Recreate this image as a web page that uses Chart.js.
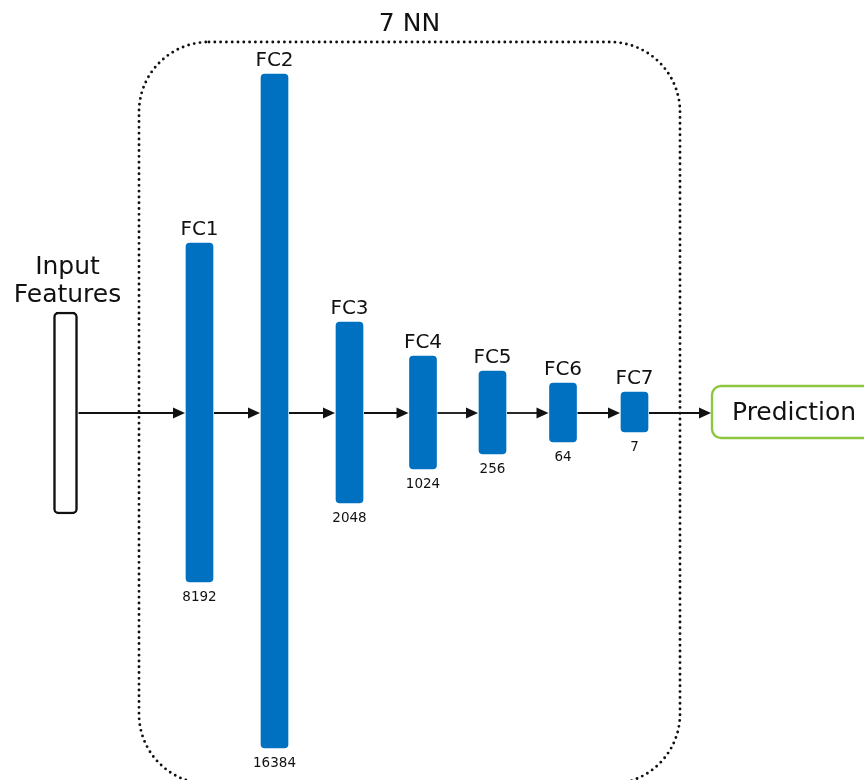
<!DOCTYPE html>
<html><head><meta charset="utf-8">
<script src="https://cdn.jsdelivr.net/npm/chart.js@4.4.1/dist/chart.umd.min.js"></script>
<style>html,body{margin:0;padding:0;background:#fff;} canvas{display:block;}</style>
</head><body>
<div style="width:864px;height:780px;position:relative"><canvas id="c" width="864" height="780"></canvas></div>
<script>
// ---- data ----
const groupTitle = "7 NN";
const inputLabel = ["Input", "Features"];
const layerNames = ["FC1", "FC2", "FC3", "FC4", "FC5", "FC6", "FC7"];
const neuronCounts = ["8192", "16384", "2048", "1024", "256", "64", "7"];
const layerX = [199.5, 274.5, 349.5, 423, 492.5, 563, 634.5];
const layerTop = [243, 74, 322, 356, 371, 383, 392];
const layerBottom = [582, 748, 503, 469, 454, 442, 432];
const inputX = [65.5];
const inputTop = [312];
const inputBottom = [514];
const flowY = 413;
const outputLabel = "Prediction";
const outputXRange = [712, 880];
const outputYRange = [386, 438];
const groupXRange = [139, 680];
const groupYRange = [42, 784];

const FONT = "'DejaVu Sans', sans-serif";
const BLUE = "#0070C0";
const INK = "#111111";

const layerData = layerX.map((x, i) => ({ x: x, y: [layerTop[i], layerBottom[i]] }));
const inputData = inputX.map((x, i) => ({ x: x, y: [inputTop[i], inputBottom[i]] }));

const diagramPlugin = {
  id: 'diagram',
  beforeDatasetsDraw(chart) {
    const { ctx, scales: { x, y } } = chart;
    ctx.save();
    ctx.strokeStyle = "#111";
    ctx.lineWidth = 2.9;
    ctx.lineCap = "round";
    ctx.setLineDash([0, 5.8]);
    const gx0 = x.getPixelForValue(groupXRange[0]), gx1 = x.getPixelForValue(groupXRange[1]);
    const gy0 = y.getPixelForValue(groupYRange[0]), gy1 = y.getPixelForValue(groupYRange[1]);
    ctx.beginPath();
    ctx.roundRect(gx0, gy0, gx1 - gx0, gy1 - gy0, 70);
    ctx.stroke();
    ctx.restore();
  },
  afterDatasetsDraw(chart) {
    const { ctx, scales: { x, y } } = chart;
    const inMeta = chart.getDatasetMeta(0).data;
    const fcMeta = chart.getDatasetMeta(1).data;
    const fy = y.getPixelForValue(flowY);
    const topOf = b => Math.min(b.y, b.base);
    const botOf = b => Math.max(b.y, b.base);

    // output box
    const ox0 = x.getPixelForValue(outputXRange[0]), ox1 = x.getPixelForValue(outputXRange[1]);
    const oy0 = y.getPixelForValue(outputYRange[0]), oy1 = y.getPixelForValue(outputYRange[1]);
    ctx.save();
    ctx.strokeStyle = "#8DC63F";
    ctx.lineWidth = 2.4;
    ctx.fillStyle = "#fff";
    ctx.beginPath();
    ctx.roundRect(ox0, oy0, ox1 - ox0, oy1 - oy0, 9);
    ctx.fill();
    ctx.stroke();
    ctx.fillStyle = INK;
    ctx.font = "25px " + FONT;
    ctx.textAlign = "left";
    ctx.textBaseline = "middle";
    ctx.fillText(outputLabel, ox0 + 20, (oy0 + oy1) / 2 + 1);
    ctx.restore();

    // arrows
    const edges = [];
    inMeta.forEach(b => edges.push([b.x - b.width / 2, b.x + b.width / 2]));
    fcMeta.forEach(b => edges.push([b.x - b.width / 2, b.x + b.width / 2]));
    edges.push([ox0, ox1]);
    ctx.save();
    ctx.strokeStyle = INK;
    ctx.fillStyle = INK;
    ctx.lineWidth = 1.8;
    for (let i = 0; i < edges.length - 1; i++) {
      const sx = edges[i][1] + 1, ex = edges[i + 1][0] - 1;
      ctx.beginPath();
      ctx.moveTo(sx, fy);
      ctx.lineTo(ex - 10, fy);
      ctx.stroke();
      ctx.beginPath();
      ctx.moveTo(ex, fy);
      ctx.lineTo(ex - 12, fy - 5.5);
      ctx.lineTo(ex - 12, fy + 5.5);
      ctx.closePath();
      ctx.fill();
    }
    ctx.restore();

    // labels
    ctx.save();
    ctx.fillStyle = INK;
    ctx.textAlign = "center";
    ctx.textBaseline = "middle";
    ctx.font = "20px " + FONT;
    fcMeta.forEach((b, i) => ctx.fillText(layerNames[i], b.x, topOf(b) - 13));
    ctx.font = "13.5px " + FONT;
    fcMeta.forEach((b, i) => ctx.fillText(neuronCounts[i], b.x, botOf(b) + 15));
    ctx.font = "25px " + FONT;
    const ib = inMeta[0];
    ctx.fillText(inputLabel[0], ib.x + 2, topOf(ib) - 45);
    ctx.fillText(inputLabel[1], ib.x + 2, topOf(ib) - 17);
    ctx.font = "25px " + FONT;
    ctx.fillText(groupTitle, (x.getPixelForValue(groupXRange[0]) + x.getPixelForValue(groupXRange[1])) / 2, y.getPixelForValue(groupYRange[0]) - 18);
    ctx.restore();
  }
};

new Chart(document.getElementById('c'), {
  type: 'bar',
  data: {
    datasets: [
      { label: 'Input', data: inputData, backgroundColor: '#ffffff', borderColor: INK,
        borderWidth: 2.5, borderRadius: 5, borderSkipped: false, barThickness: 24, grouped: false },
      { label: 'Layers', data: layerData, backgroundColor: BLUE, borderWidth: 0,
        borderRadius: 4, borderSkipped: false, barThickness: 27, grouped: false }
    ]
  },
  options: {
    responsive: false,
    animation: false,
    layout: { padding: 0 },
    plugins: { legend: { display: false }, tooltip: { enabled: false }, title: { display: false } },
    scales: {
      x: { type: 'linear', min: 0, max: 864, display: false, offset: false },
      y: { type: 'linear', min: 0, max: 780, reverse: true, display: false }
    }
  },
  plugins: [diagramPlugin]
});
</script>
</body></html>
